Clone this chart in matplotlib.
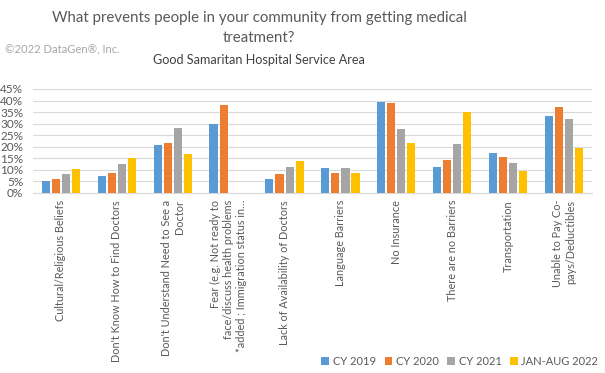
import matplotlib.pyplot as plt
import numpy as np
from matplotlib.ticker import PercentFormatter

plt.rcParams['font.family'] = ['Lato', 'DejaVu Sans']

categories = [
    "Cultural/Religious Beliefs",
    "Don't Know How to Find Doctors",
    "Don't Understand Need to See a\nDoctor",
    "Fear (e.g. Not ready to\nface/discuss health problems\n*added ; Immigration status in…",
    "Lack of Availability of Doctors",
    "Language Barriers",
    "No Insurance",
    "There are no Barriers",
    "Transportation",
    "Unable to Pay Co-\npays/Deductibles",
]
series_names = ["CY 2019", "CY 2020", "CY 2021", "JAN-AUG 2022"]
cy2019 = [5.2, 7.4, 20.8, 29.9, 6.1, 10.8, 39.4, 11.3, 17.3, 33.3]
cy2020 = [6.1, 8.7, 21.6, 38.1, 8.2, 8.7, 39.0, 14.3, 15.6, 37.2]
cy2021 = [8.2, 12.6, 28.1, np.nan, 11.3, 10.8, 27.7, 21.2, 13.0, 32.0]
jan_aug_2022 = [10.4, 15.2, 16.9, np.nan, 13.9, 8.7, 21.6, 35.1, 9.5, 19.5]
colors = ["#5B9BD5", "#ED7D31", "#A5A5A5", "#FFC000"]

fig = plt.figure(figsize=(6.05, 3.73), dpi=100)
ax = fig.add_axes([0.0545, 0.4826, 0.924, 0.2788])

x = np.arange(len(categories))
slot = 0.18
for i, (vals, name, c) in enumerate(zip([cy2019, cy2020, cy2021, jan_aug_2022], series_names, colors)):
    ax.bar(x + (i - 1.5) * slot, np.array(vals) / 100, width=0.145, color=c, label=name, zorder=3)

ax.set_xlim(-0.5, len(categories) - 0.5)
ax.set_ylim(0, 0.45)
ax.set_yticks(np.arange(0, 0.46, 0.05))
ax.yaxis.set_major_formatter(PercentFormatter(1.0, decimals=0))
ax.grid(axis='y', color='#D9D9D9', linewidth=0.8, zorder=0)
for s in ['top', 'right', 'left']:
    ax.spines[s].set_visible(False)
ax.spines['bottom'].set_color('#D9D9D9')
ax.tick_params(axis='y', length=0, labelsize=8.5, labelcolor='#595959', pad=7)
ax.tick_params(axis='x', length=0, pad=5)
ax.set_xticks(x)
ax.set_xticklabels(categories, rotation=90, fontsize=7.8, color='#595959',
                   ha='center', va='top', multialignment='right', linespacing=1.25)

# title block
fig.text(0.428, 0.924, "What prevents people in your community from getting medical\ntreatment?",
         ha='center', va='center', fontsize=10.8, color='#595959', linespacing=1.55)
fig.text(0.428, 0.84, "Good Samaritan Hospital Service Area", ha='center', va='center',
         fontsize=9.1, color='#404040')
fig.text(0.008, 0.866, "©2022 DataGen®, Inc.", ha='left', va='center', fontsize=8.1, color='#A6A6A6')

fig.legend(*ax.get_legend_handles_labels(), loc='center right', bbox_to_anchor=(1.0, 0.032),
           ncol=4, frameon=False, fontsize=8, handlelength=0.7, handleheight=0.7,
           handletextpad=0.3, columnspacing=0.8, borderaxespad=0.2, labelcolor='#595959')

fig.savefig("out.png", dpi=100)
